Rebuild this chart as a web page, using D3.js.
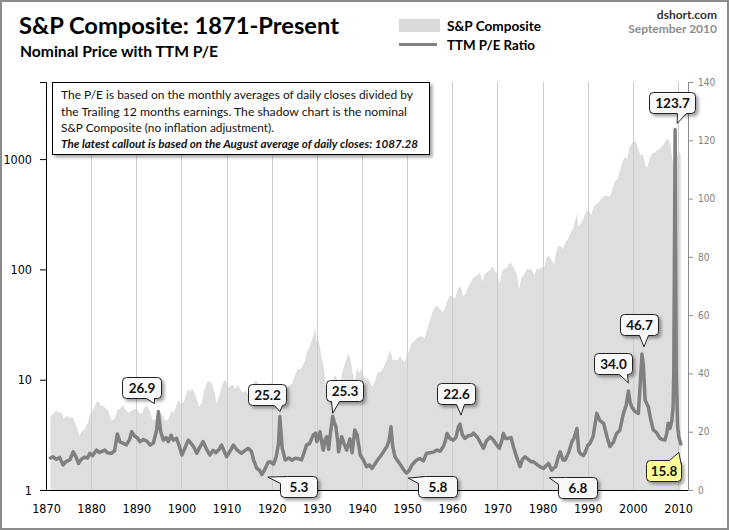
<!DOCTYPE html>
<html>
<head>
<meta charset="utf-8">
<script src="https://cdn.jsdelivr.net/npm/d3@7"></script>
<style>
  body { margin: 0; background: #fff; }
  svg { display: block; }
</style>
</head>
<body>
<script>

// S&P Composite monthly-ish closes (log scale)
var priceData = [
  [1871.0, 4.6], [1871.5, 4.9], [1872.2, 5.2], [1872.8, 5.1], [1873.5, 5.0], [1873.9, 4.4],
  [1874.5, 4.7], [1875.2, 4.5], [1875.9, 4.6], [1876.5, 4.0], [1877.0, 3.5], [1877.4, 3.1],
  [1877.9, 3.4], [1878.6, 3.6], [1879.2, 4.0], [1879.7, 4.8], [1880.3, 5.1], [1880.9, 6.0],
  [1881.5, 6.4], [1882.0, 5.9], [1882.6, 5.8], [1883.2, 5.5], [1883.8, 5.2], [1884.5, 4.3],
  [1885.2, 4.4], [1885.8, 5.3], [1886.5, 5.5], [1887.1, 5.9], [1887.6, 5.3], [1888.2, 5.0],
  [1888.8, 5.2], [1889.5, 5.4], [1890.0, 5.5], [1890.8, 4.9], [1891.4, 5.1], [1892.0, 5.8],
  [1892.6, 5.6], [1893.1, 5.1], [1893.6, 4.3], [1894.4, 4.4], [1895.0, 4.6], [1895.6, 5.0],
  [1896.0, 4.6], [1896.6, 4.2], [1897.2, 4.5], [1897.8, 5.2], [1898.3, 5.0], [1898.9, 5.9],
  [1899.4, 6.6], [1899.9, 6.0], [1900.4, 6.2], [1900.9, 7.0], [1901.3, 8.1], [1901.8, 7.9],
  [1902.4, 8.3], [1902.9, 7.6], [1903.4, 6.6], [1903.9, 5.7], [1904.5, 6.2], [1905.0, 7.9],
  [1905.7, 9.6], [1906.2, 9.8], [1906.8, 9.2], [1907.4, 7.4], [1907.8, 6.1], [1908.4, 7.2],
  [1908.9, 8.6], [1909.5, 9.9], [1909.9, 9.7], [1910.5, 8.4], [1911.0, 8.9], [1911.5, 8.9],
  [1911.9, 8.2], [1912.5, 9.1], [1913.0, 8.2], [1913.6, 7.7], [1914.2, 8.0], [1914.8, 7.3],
  [1915.4, 8.2], [1916.0, 9.4], [1916.5, 9.9], [1917.0, 9.3], [1917.6, 8.9], [1917.9, 7.1],
  [1918.3, 7.5], [1918.9, 8.0], [1919.4, 8.8], [1919.8, 9.6], [1920.3, 8.5], [1920.8, 7.6],
  [1921.6, 7.0], [1922.2, 8.0], [1922.8, 8.9], [1923.4, 8.6], [1923.9, 8.8], [1924.5, 9.2],
  [1924.8, 10.0], [1925.3, 11.5], [1925.8, 12.5], [1926.3, 12.3], [1926.9, 13.5], [1927.4, 15.2],
  [1927.7, 17.3], [1928.3, 19.5], [1928.9, 23.0], [1929.4, 26.5], [1929.7, 30.2], [1929.9, 22.0],
  [1930.3, 24.0], [1930.7, 19.0], [1931.0, 16.2], [1931.5, 13.5], [1932.0, 8.5], [1932.4, 6.9],
  [1932.8, 7.8], [1933.3, 8.0], [1933.7, 10.5], [1934.2, 11.0], [1934.7, 9.3], [1935.2, 9.5],
  [1935.8, 12.5], [1936.4, 14.8], [1937.0, 17.3], [1937.5, 15.0], [1938.0, 11.0], [1938.4, 9.5],
  [1938.9, 12.7], [1939.4, 11.5], [1939.9, 12.5], [1940.5, 10.5], [1941.0, 10.2], [1941.6, 10.0],
  [1942.2, 8.6], [1942.8, 9.5], [1943.4, 11.5], [1944.0, 11.8], [1944.6, 12.6], [1945.2, 14.0],
  [1945.8, 16.5], [1946.3, 18.5], [1946.8, 15.0], [1947.3, 15.2], [1947.9, 15.0], [1948.4, 16.3],
  [1948.9, 15.3], [1949.4, 14.5], [1949.9, 16.5], [1950.5, 18.5], [1951.0, 21.5], [1951.6, 22.5],
  [1952.2, 23.8], [1952.8, 24.8], [1953.4, 24.5], [1953.8, 23.5], [1954.3, 27.5], [1954.9, 33.0],
  [1955.5, 40.0], [1956.0, 44.5], [1956.6, 47.0], [1957.2, 44.0], [1957.8, 41.0], [1958.3, 43.5],
  [1958.9, 52.0], [1959.5, 58.0], [1960.0, 57.0], [1960.6, 54.5], [1961.3, 67.0], [1961.9, 70.0],
  [1962.4, 56.5], [1962.9, 60.0], [1963.5, 70.0], [1963.9, 74.0], [1964.5, 82.0], [1965.2, 87.0],
  [1965.8, 91.0], [1966.1, 92.5], [1966.7, 78.0], [1967.3, 92.0], [1967.9, 95.0], [1968.5, 100.0],
  [1968.9, 106.0], [1969.5, 96.0], [1970.1, 90.0], [1970.5, 74.0], [1971.0, 96.0], [1971.5, 101.0],
  [1972.0, 104.0], [1972.9, 117.0], [1973.4, 107.0], [1973.9, 97.0], [1974.3, 90.0], [1974.8, 66.0],
  [1975.3, 84.0], [1975.8, 88.0], [1976.5, 102.0], [1977.0, 101.0], [1977.6, 98.0], [1978.2, 88.0],
  [1978.7, 102.0], [1979.3, 100.0], [1979.9, 106.0], [1980.3, 102.0], [1980.9, 130.0], [1981.4, 132.0],
  [1981.9, 122.0], [1982.5, 110.0], [1982.9, 138.0], [1983.5, 165.0], [1984.0, 163.0], [1984.5, 152.0],
  [1985.0, 175.0], [1985.6, 188.0], [1986.2, 215.0], [1986.8, 240.0], [1987.6, 320.0], [1987.9, 240.0],
  [1988.5, 265.0], [1989.0, 285.0], [1989.7, 345.0], [1990.3, 335.0], [1990.8, 310.0], [1991.3, 375.0],
  [1991.9, 390.0], [1992.5, 410.0], [1993.0, 440.0], [1993.8, 465.0], [1994.3, 465.0], [1994.9, 455.0],
  [1995.5, 540.0], [1996.1, 640.0], [1996.6, 660.0], [1997.1, 790.0], [1997.7, 940.0], [1998.2, 1050.0],
  [1998.7, 1000.0], [1999.2, 1270.0], [1999.6, 1350.0], [2000.1, 1440.0], [2000.6, 1450.0], [2001.2, 1250.0],
  [2001.7, 1070.0], [2002.2, 1120.0], [2002.8, 860.0], [2003.2, 850.0], [2003.8, 1030.0], [2004.3, 1130.0],
  [2004.8, 1150.0], [2005.4, 1200.0], [2005.9, 1240.0], [2006.4, 1300.0], [2006.9, 1380.0], [2007.4, 1500.0],
  [2007.8, 1520.0], [2008.3, 1350.0], [2008.8, 970.0], [2009.2, 760.0], [2009.6, 990.0], [2010.0, 1120.0],
  [2010.3, 1170.0], [2010.6, 1087.0]
];

// TTM P/E ratio (right axis)
var peData = [
  [1871.0, 11.0], [1871.5, 11.4], [1872.3, 10.5], [1873.0, 11.2], [1873.8, 8.6], [1874.5, 9.8],
  [1875.3, 10.3], [1876.0, 13.1], [1876.6, 11.5], [1877.2, 9.1], [1877.8, 10.5], [1878.5, 11.3],
  [1879.2, 11.0], [1879.7, 12.6], [1880.3, 11.8], [1881.2, 13.7], [1881.8, 12.9], [1882.5, 13.3],
  [1883.0, 13.7], [1883.6, 12.8], [1884.5, 12.6], [1885.2, 13.5], [1885.8, 19.2], [1886.4, 16.5],
  [1887.1, 16.0], [1887.8, 15.5], [1888.5, 17.3], [1889.0, 20.0], [1889.6, 18.5], [1890.2, 17.9],
  [1890.8, 16.6], [1891.6, 17.3], [1892.3, 16.8], [1893.1, 15.4], [1893.8, 16.2], [1894.5, 20.5],
  [1894.9, 26.9], [1895.4, 20.0], [1896.0, 17.1], [1896.6, 18.0], [1897.1, 16.6], [1897.7, 18.8],
  [1898.2, 17.1], [1898.9, 17.8], [1899.5, 15.2], [1900.1, 12.0], [1900.8, 14.5], [1901.5, 17.1],
  [1902.2, 15.9], [1902.8, 14.6], [1903.4, 12.6], [1904.1, 14.8], [1904.8, 16.6], [1905.5, 14.2],
  [1906.3, 12.0], [1907.0, 13.6], [1907.6, 12.8], [1908.3, 13.9], [1908.9, 15.4], [1909.5, 13.2],
  [1910.0, 11.4], [1910.8, 13.4], [1911.5, 15.4], [1912.3, 13.8], [1913.3, 12.6], [1914.1, 13.6],
  [1914.8, 14.3], [1915.5, 13.2], [1916.0, 10.2], [1916.7, 7.4], [1917.3, 6.8], [1917.8, 5.3],
  [1918.5, 7.2], [1919.2, 9.5], [1919.6, 9.7], [1920.4, 8.9], [1921.0, 11.5], [1921.5, 16.0],
  [1921.8, 25.2], [1922.3, 14.5], [1923.0, 10.3], [1923.8, 11.0], [1924.5, 10.2], [1925.2, 10.9],
  [1926.0, 10.7], [1926.6, 10.3], [1927.2, 13.0], [1927.7, 15.4], [1928.4, 16.0], [1929.2, 18.9],
  [1929.7, 19.5], [1930.0, 16.6], [1930.7, 20.0], [1931.1, 16.0], [1931.4, 13.7], [1931.8, 17.2],
  [1932.2, 18.3], [1932.6, 14.0], [1933.0, 19.5], [1933.5, 25.3], [1933.8, 23.5], [1934.2, 21.7],
  [1934.6, 17.0], [1934.8, 13.1], [1935.5, 18.3], [1936.0, 16.0], [1936.6, 13.7], [1937.3, 17.5],
  [1937.8, 12.8], [1938.4, 20.6], [1938.9, 19.0], [1939.6, 12.0], [1940.3, 10.3], [1941.0, 8.0],
  [1941.6, 8.6], [1942.2, 7.4], [1942.8, 8.8], [1943.4, 10.2], [1944.0, 11.4], [1944.7, 13.0],
  [1945.5, 14.9], [1946.0, 17.0], [1946.4, 21.7], [1946.8, 15.0], [1947.3, 11.4], [1947.9, 10.0],
  [1948.5, 8.7], [1949.0, 7.5], [1949.5, 6.3], [1949.9, 5.8], [1950.5, 6.8], [1951.0, 8.5],
  [1951.6, 9.5], [1952.1, 10.3], [1952.8, 10.8], [1953.6, 10.0], [1954.3, 12.6], [1955.0, 12.8],
  [1955.8, 13.0], [1956.6, 13.7], [1957.3, 13.3], [1958.0, 14.9], [1958.5, 17.0], [1958.8, 19.4],
  [1959.5, 17.6], [1960.2, 17.1], [1960.8, 18.0], [1961.3, 21.5], [1961.7, 22.6], [1962.2, 19.0],
  [1962.8, 17.7], [1963.5, 18.6], [1964.2, 18.8], [1964.7, 19.5], [1965.5, 18.2], [1966.3, 16.0],
  [1966.9, 14.3], [1967.6, 17.0], [1968.4, 18.2], [1968.9, 17.5], [1969.6, 16.0], [1970.4, 14.3],
  [1970.9, 16.6], [1971.3, 19.4], [1971.8, 17.7], [1972.4, 17.7], [1973.0, 18.0], [1973.6, 14.5],
  [1974.3, 11.0], [1975.0, 8.0], [1975.5, 10.5], [1976.1, 11.4], [1976.8, 10.5], [1977.5, 9.7],
  [1978.0, 9.7], [1978.7, 8.8], [1979.4, 8.0], [1980.2, 7.4], [1980.8, 8.4], [1981.3, 9.1],
  [1982.0, 6.8], [1982.5, 7.6], [1982.9, 8.0], [1983.4, 11.0], [1983.9, 13.1], [1984.5, 10.3],
  [1985.0, 10.3], [1985.8, 13.0], [1986.5, 16.6], [1987.0, 18.0], [1987.6, 21.1], [1988.0, 13.5],
  [1988.3, 12.6], [1989.0, 11.8], [1989.4, 12.8], [1990.0, 15.3], [1990.5, 16.0], [1991.2, 18.5],
  [1992.0, 26.3], [1992.6, 24.0], [1993.5, 22.9], [1994.3, 18.0], [1994.9, 14.9], [1995.7, 16.5],
  [1996.4, 19.4], [1997.1, 20.5], [1997.9, 26.3], [1998.5, 29.0], [1999.0, 34.0], [1999.4, 30.0],
  [1999.7, 28.6], [2000.4, 27.0], [2001.2, 26.3], [2001.6, 36.0], [2002.0, 46.7], [2002.3, 43.0],
  [2002.7, 30.9], [2003.4, 28.6], [2003.9, 24.5], [2004.5, 20.6], [2005.2, 19.8], [2006.0, 17.7],
  [2006.6, 17.3], [2007.1, 17.1], [2007.5, 19.5], [2007.8, 22.9], [2008.2, 21.1], [2008.6, 23.5],
  [2008.9, 28.6], [2009.05, 40.0], [2009.35, 123.7], [2009.6, 40.0], [2009.9, 21.7], [2010.2, 18.0],
  [2010.6, 15.8]
];

var calloutYears  = [1894.9, 1921.8, 1933.5, 1961.7, 1999.0, 2002.0, 2009.35, 1917.8, 1949.9, 1982.0, 2010.6];
var calloutValues = [26.9, 25.2, 25.3, 22.6, 34.0, 46.7, 123.7, 5.3, 5.8, 6.8, 15.8];

var xTicks = d3.range(1870, 2011, 10);
var leftTicks = [1, 10, 100, 1000];
var rightTicks = d3.range(0, 141, 20);

var noteLines = [
  "The P/E is based on the monthly averages of daily closes divided by",
  "the Trailing 12 months earnings. The shadow chart is the nominal",
  "S&P Composite (no inflation adjustment)."
];
var noteBold = "The latest callout is based on the August  average of daily closes: 1087.28";

// box placement for each callout (box offset from the point, width, wedge base and tip)
var calloutLayout = [
  { dx: -36, dy: -34.5, w: 39, b1: [24, 21], b2: [32, 21], tip: [-4, -8] },
  { dx: -32, dy: -32.5, w: 38, b1: [26, 21], b2: [34, 21], tip: [0, -5] },
  { dx: -7,  dy: -36,   w: 37, b1: [5, 21],  b2: [13, 21], tip: [0, -3] },
  { dx: -23, dy: -41.5, w: 38, b1: [19, 21], b2: [27, 21], tip: [1, -9] },
  { dx: -34, dy: -38,   w: 38, b1: [25, 21], b2: [33, 21], tip: [0, -8] },
  { dx: -22, dy: -40,   w: 38, b1: [19, 21], b2: [28, 21], tip: [2, -7] },
  { dx: -26, dy: -38,   w: 46, b1: [28, 21], b2: [37, 21], tip: [2, -6] },
  { dx: 18,  dy: 1.5,   w: 37, b1: [7, 0],   b2: [0, 7],   tip: [6, 2.5] },
  { dx: 11,  dy: 3,     w: 39, b1: [7, 0],   b2: [0, 7],   tip: [1.5, 5] },
  { dx: 6.5, dy: 7,     w: 39, b1: [7, 0],   b2: [0, 7],   tip: [-2.5, 7.5] },
  { dx: -35, dy: 16,    w: 35, b1: [23, 0],  b2: [35, 5],  tip: [-2, 8.5], fill: "#ffff99" }
];

var W = 729, H = 530;
var plotL = 46, plotR = 688, plotT = 82, plotB = 490;

var svg = d3.select("body").append("svg")
  .attr("width", W)
  .attr("height", H)
  .style("font-family", "Lato, 'Open Sans', sans-serif");

var defs = svg.append("defs");
var shadow = defs.append("filter").attr("id", "shadow")
  .attr("x", "-10%").attr("y", "-10%").attr("width", "130%").attr("height", "140%");
shadow.append("feDropShadow")
  .attr("dx", 2.5).attr("dy", 2.5).attr("stdDeviation", 1.5)
  .attr("flood-color", "#000").attr("flood-opacity", 0.35);

svg.append("rect")
  .attr("width", W).attr("height", H)
  .attr("fill", "#fff");

var x = d3.scaleLinear().domain([1870, 2012.2]).range([plotL, plotR]);
var yPrice = d3.scaleLog().domain([1, 5000]).range([plotB, plotT]);
var yPE = d3.scaleLinear().domain([0, 140]).range([plotB, plotT]);

// shaded price
svg.append("path")
  .datum(priceData)
  .attr("d", d3.area()
    .x(function(d) { return x(d[0]); })
    .y0(plotB)
    .y1(function(d) { return yPrice(d[1]); }))
  .attr("fill", "#dedede");

// vertical gridlines
svg.append("g")
  .selectAll("line")
  .data(xTicks.slice(1))
  .enter().append("line")
    .attr("x1", function(d) { return Math.round(x(d)) + 0.5; })
    .attr("x2", function(d) { return Math.round(x(d)) + 0.5; })
    .attr("y1", plotT)
    .attr("y2", plotB)
    .attr("stroke", "#cdcdcd")
    .attr("stroke-width", 1);

// P/E line
svg.append("path")
  .datum(peData)
  .attr("d", d3.line()
    .x(function(d) { return x(d[0]); })
    .y(function(d) { return yPE(d[1]); }))
  .attr("fill", "none")
  .attr("stroke", "#808080")
  .attr("stroke-width", 3.5)
  .attr("stroke-linejoin", "round")
  .attr("stroke-linecap", "round");

var tickFont = "'DejaVu Sans Condensed', 'DejaVu Sans', sans-serif";

// left axis (log)
var leftAxis = svg.append("g")
  .attr("transform", "translate(" + plotL + ",0)")
  .call(d3.axisLeft(yPrice).tickValues(leftTicks).tickFormat(d3.format("d")).tickSize(6).tickPadding(8));
leftAxis.select(".domain").attr("stroke", "#000");
leftAxis.selectAll("text")
  .attr("fill", "#000")
  .style("font-family", tickFont)
  .style("font-stretch", "condensed")
  .style("font-size", "12.5px");

// right axis
var rightAxis = svg.append("g")
  .attr("transform", "translate(" + plotR + ",0)")
  .call(d3.axisRight(yPE).tickValues(rightTicks).tickSize(5).tickPadding(5));
rightAxis.select(".domain").attr("stroke", "#8c8c8c");
rightAxis.selectAll("line").attr("stroke", "#8c8c8c");
rightAxis.selectAll("text")
  .attr("fill", "#808080")
  .style("font-family", tickFont)
  .style("font-stretch", "condensed")
  .style("font-size", "10px");

// bottom axis
var bottomAxis = svg.append("g")
  .attr("transform", "translate(0," + plotB + ")")
  .call(d3.axisBottom(x).tickValues(xTicks).tickFormat(d3.format("d")).tickSize(0).tickPadding(14));
bottomAxis.select(".domain").remove();
bottomAxis.selectAll("text")
  .attr("fill", "#000")
  .style("font-family", tickFont)
  .style("font-stretch", "condensed")
  .style("font-size", "12.5px");
svg.append("line")
  .attr("x1", plotL - 6).attr("x2", plotR)
  .attr("y1", plotB + 0.5).attr("y2", plotB + 0.5)
  .attr("stroke", "#000");

// note box
var note = svg.append("g");
note.append("rect")
  .attr("x", 52.5).attr("y", 82.5)
  .attr("width", 377).attr("height", 72)
  .attr("fill", "#fff")
  .attr("stroke", "#000")
  .attr("filter", "url(#shadow)");
var noteLengths = [352, 346, 213];
noteLines.forEach(function(t, i) {
  note.append("text")
    .attr("x", 61).attr("y", 99 + i * 16.5)
    .attr("textLength", noteLengths[i])
    .attr("lengthAdjust", "spacingAndGlyphs")
    .style("font-size", "12px")
    .attr("fill", "#111")
    .text(t);
});
note.append("text")
  .attr("x", 61).attr("y", 148)
  .attr("textLength", 357)
  .attr("lengthAdjust", "spacingAndGlyphs")
  .style("font-size", "11.5px")
  .style("font-weight", "bold")
  .style("font-style", "italic")
  .attr("fill", "#111")
  .text(noteBold);

// callouts
function calloutPath(bx, by, w, h, r) {
  return "M" + (bx + r) + "," + by +
    "H" + (bx + w - r) + "A" + r + "," + r + " 0 0 1 " + (bx + w) + "," + (by + r) +
    "V" + (by + h - r) + "A" + r + "," + r + " 0 0 1 " + (bx + w - r) + "," + (by + h) +
    "H" + (bx + r) + "A" + r + "," + r + " 0 0 1 " + bx + "," + (by + h - r) +
    "V" + (by + r) + "A" + r + "," + r + " 0 0 1 " + (bx + r) + "," + by + "Z";
}

var callouts = svg.append("g");
calloutValues.forEach(function(v, i) {
  var lay = calloutLayout[i];
  var px = x(calloutYears[i]), py = yPE(v);
  var bx = Math.round(px + lay.dx) + 0.5, by = Math.round(py + lay.dy) + 0.5;
  var h = 21, fill = lay.fill || "#f8f8f8";
  var cx = bx + lay.w / 2, cy = by + h / 2;
  var b1 = [bx + lay.b1[0], by + lay.b1[1]], b2 = [bx + lay.b2[0], by + lay.b2[1]];
  var tip = [px + lay.tip[0], py + lay.tip[1]];
  function inward(p) {
    var ddx = cx - p[0], ddy = cy - p[1], len = Math.sqrt(ddx * ddx + ddy * ddy);
    return [p[0] + 2.5 * ddx / len, p[1] + 2.5 * ddy / len];
  }
  var g = callouts.append("g");
  g.append("path")
    .attr("d", calloutPath(bx, by, lay.w, h, 4))
    .attr("fill", fill)
    .attr("stroke", "#222")
    .attr("filter", "url(#shadow)");
  g.append("path")
    .attr("d", "M" + [b1, tip, b2, inward(b2), inward(b1)].map(function(p) { return p.join(","); }).join("L") + "Z")
    .attr("fill", fill);
  g.append("path")
    .attr("d", "M" + [b1, tip, b2].map(function(p) { return p.join(","); }).join("L"))
    .attr("fill", "none")
    .attr("stroke", "#222");
  g.append("text")
    .attr("x", cx).attr("y", cy + 4.5)
    .attr("text-anchor", "middle")
    .style("font-size", "13.5px")
    .style("font-weight", "bold")
    .attr("fill", "#111")
    .text(v.toFixed(1));
});

// titles
svg.append("text")
  .attr("x", 19).attr("y", 34)
  .attr("textLength", 320)
  .attr("lengthAdjust", "spacingAndGlyphs")
  .style("font-size", "22px")
  .style("font-weight", "bold")
  .attr("fill", "#000")
  .text("S&P Composite: 1871-Present");
svg.append("text")
  .attr("x", 20).attr("y", 57)
  .attr("textLength", 198)
  .attr("lengthAdjust", "spacingAndGlyphs")
  .style("font-size", "14.5px")
  .style("font-weight", "bold")
  .attr("fill", "#000")
  .text("Nominal Price with TTM P/E");

// legend
svg.append("rect")
  .attr("x", 399).attr("y", 19)
  .attr("width", 41).attr("height", 13)
  .attr("fill", "#d9d9d9");
svg.append("line")
  .attr("x1", 399).attr("x2", 437)
  .attr("y1", 44.5).attr("y2", 44.5)
  .attr("stroke", "#808080")
  .attr("stroke-width", 3);
svg.append("text")
  .attr("x", 447).attr("y", 30.5)
  .attr("textLength", 94)
  .attr("lengthAdjust", "spacingAndGlyphs")
  .style("font-size", "13px")
  .style("font-weight", "bold")
  .attr("fill", "#000")
  .text("S&P Composite");
svg.append("text")
  .attr("x", 447).attr("y", 49.5)
  .attr("textLength", 88)
  .attr("lengthAdjust", "spacingAndGlyphs")
  .style("font-size", "13px")
  .style("font-weight", "bold")
  .attr("fill", "#000")
  .text("TTM P/E Ratio");

svg.append("text")
  .attr("x", 717).attr("y", 19)
  .attr("text-anchor", "end")
  .style("font-size", "12px")
  .style("font-weight", "bold")
  .attr("fill", "#333")
  .text("dshort.com");
svg.append("text")
  .attr("x", 717).attr("y", 33)
  .attr("text-anchor", "end")
  .style("font-size", "12px")
  .style("font-weight", "bold")
  .attr("fill", "#8c8c8c")
  .text("September 2010");

// outer frame
svg.append("rect")
  .attr("x", 1).attr("y", 1)
  .attr("width", W - 2).attr("height", H - 2)
  .attr("fill", "none")
  .attr("stroke", "#8c8c8c")
  .attr("stroke-width", 2);

</script>
</body>
</html>
